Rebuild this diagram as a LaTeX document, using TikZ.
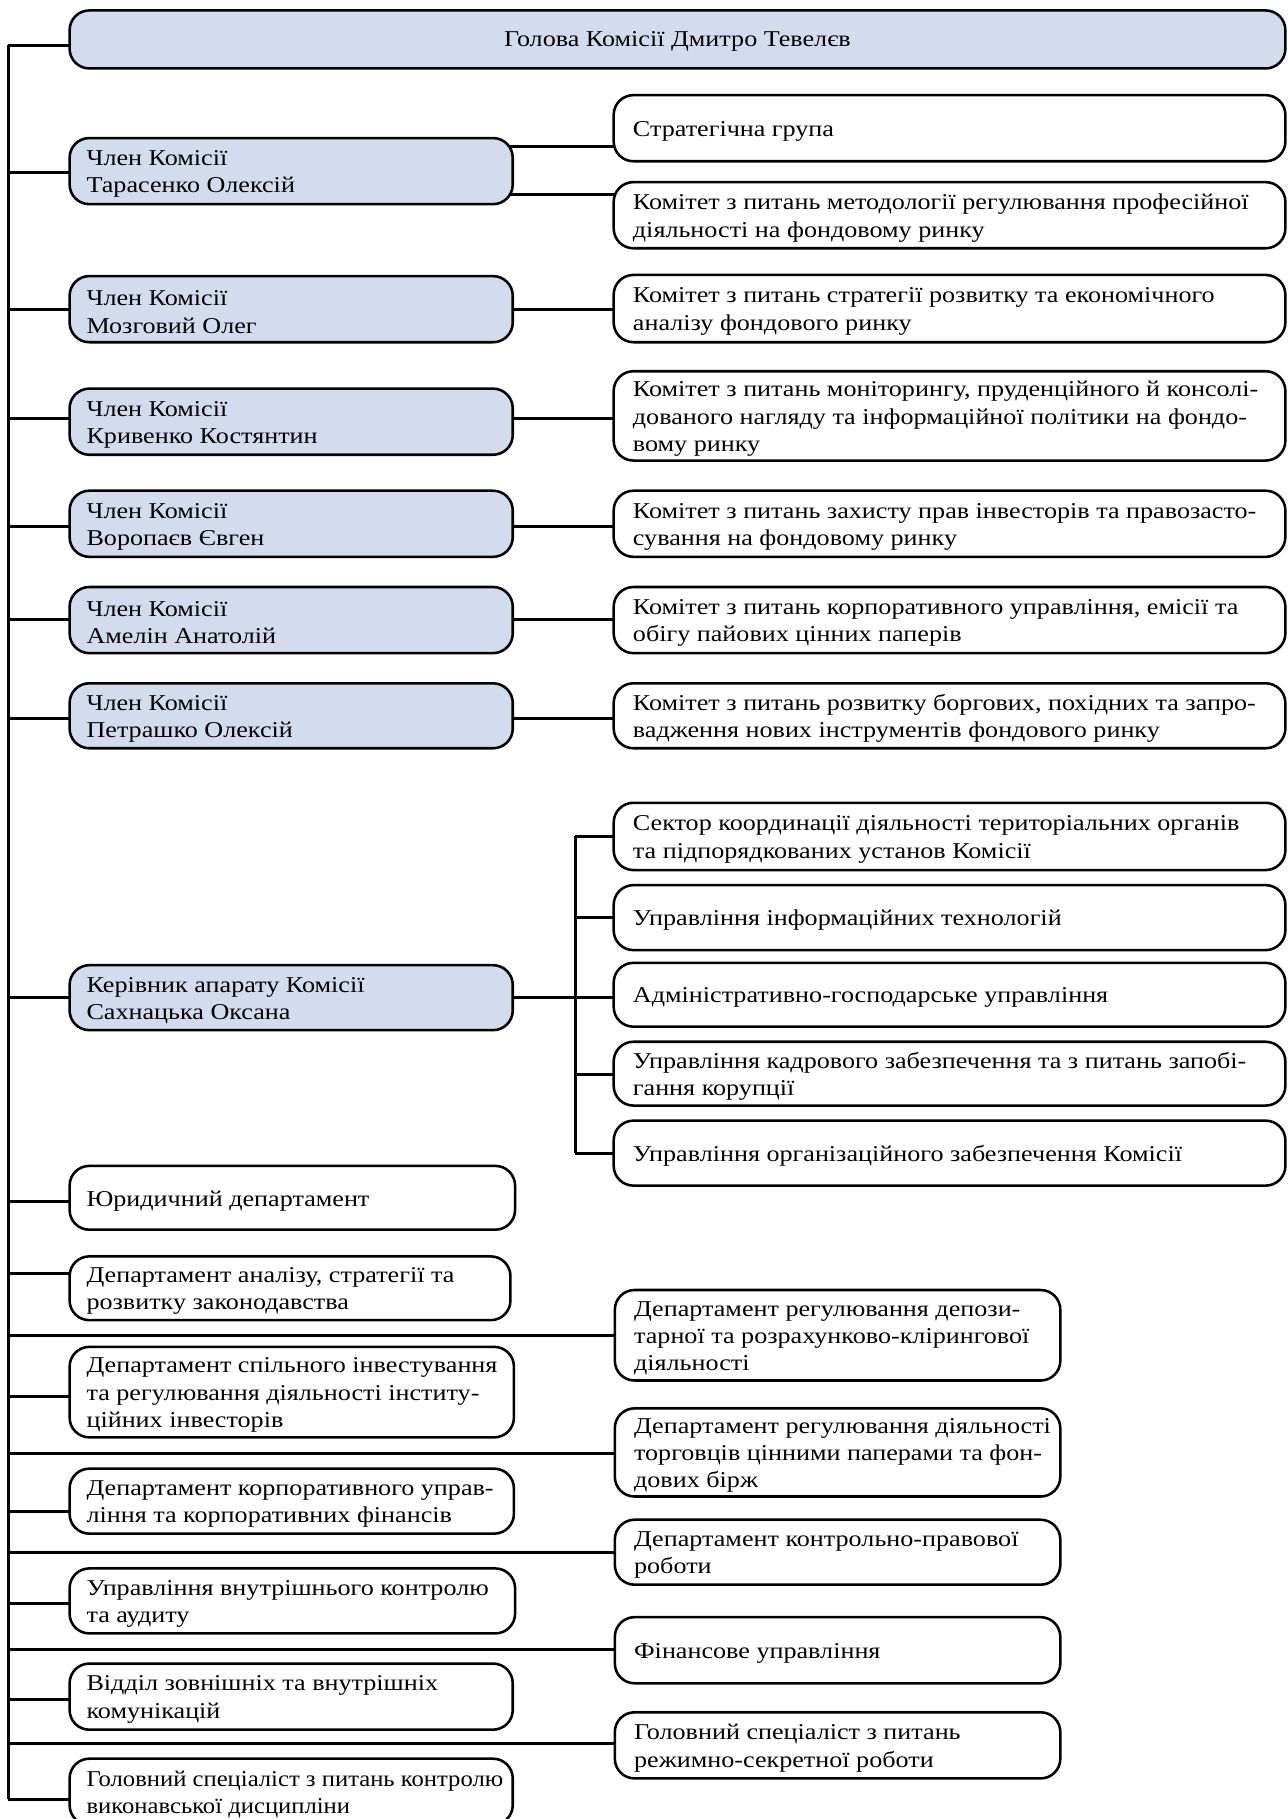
\documentclass[tikz,border=0pt]{standalone}
\usepackage{fontspec}
\setmainfont{Liberation Serif}[FakeStretch=1.155]
\newfontfamily\narrowserif{Liberation Serif}[FakeStretch=1.09]
\definecolor{boxblue}{RGB}{211,220,237}
\pgfdeclarelayer{bg}
\pgfsetlayers{bg,main}
\newcommand{\orgbox}[7]{%
  \node[#2, minimum width={(#5-#3)*1pt}, minimum height={(#6-#4)*1pt}] (#1) at ({(#3+#5)/2},{(#4+#6)/2}) {};
  \node[txt] (#1t) at ([xshift=15.5pt,yshift=-2.5pt]#1.west) {#7};
}
\newcommand{\orgboxr}[7]{%
  \node[#2, minimum width={(#5-#3)*1pt}, minimum height={(#6-#4)*1pt}] (#1) at ({(#3+#5)/2},{(#4+#6)/2}) {};
  \node[txt] (#1t) at ([xshift=17.5pt,yshift=-2.5pt]#1.west) {#7};
}
\begin{document}
\begin{tikzpicture}[x=1pt,y=-1pt,
  bx/.style={draw=black, line width=2.2pt, rounded corners=17pt, inner sep=0pt},
  bluebox/.style={bx, fill=boxblue},
  whitebox/.style={bx, fill=white},
  txt/.style={anchor=west, align=left, inner sep=0pt, font=\fontsize{19.5}{23.5}\selectfont},
  conn/.style={line width=2.6pt}]
\useasboundingbox (0,0) rectangle (1110,1568);
\clip (0,0) rectangle (1110,1568);
% top
\node[bluebox, minimum width=1048pt, minimum height=50pt] (top) at (584,34) {};
\node[txt, anchor=center] (topt) at ([yshift=-1.5pt]top.center) {Голова Комісії Дмитро Тевелєв};
% members
\orgbox{m1}{bluebox}{60}{119}{442}{176}{Член Комісії\\Тарасенко Олексій}
\orgbox{m2}{bluebox}{60}{238}{442}{295}{Член Комісії\\Мозговий Олег}
\orgbox{m3}{bluebox}{60}{335}{442}{392}{Член Комісії\\Кривенко Костянтин}
\orgbox{m4}{bluebox}{60}{423}{442}{480}{Член Комісії\\Воропаєв Євген}
\orgbox{m5}{bluebox}{60}{506}{442}{563}{Член Комісії\\Амелін Анатолій}
\orgbox{m6}{bluebox}{60}{589}{442}{645}{Член Комісії\\Петрашко Олексій}
\orgbox{m7}{bluebox}{60}{832}{442}{888}{Керівник апарату Комісії\\Сахнацька Оксана}
% committees
\orgboxr{c1}{whitebox}{529}{82}{1108}{139}{Стратегічна група}
\orgboxr{c2}{whitebox}{529}{157}{1108}{214}{Комітет з питань методології регулювання професійної\\діяльності на фондовому ринку}
\orgboxr{c3}{whitebox}{529}{237}{1108}{295}{Комітет з питань стратегії розвитку та економічного\\аналізу фондового ринку}
\orgboxr{c4}{whitebox}{529}{320}{1108}{397}{Комітет з питань моніторингу, пруденційного й консолі-\\дованого нагляду та інформаційної політики на фондо-\\вому ринку}
\orgboxr{c5}{whitebox}{529}{423}{1108}{480}{Комітет з питань захисту прав інвесторів та правозасто-\\сування на фондовому ринку}
\orgboxr{c6}{whitebox}{529}{506}{1108}{563}{Комітет з питань корпоративного управління, емісії та\\обігу пайових цінних паперів}
\orgboxr{c7}{whitebox}{529}{589}{1108}{645}{Комітет з питань розвитку боргових, похідних та запро-\\вадження нових інструментів фондового ринку}
% apparatus
\orgboxr{a1}{whitebox}{529}{692}{1108}{750}{Сектор координації діяльності територіальних органів\\та підпорядкованих установ Комісії}
\orgboxr{a2}{whitebox}{529}{763}{1108}{819}{Управління інформаційних технологій}
\orgboxr{a3}{whitebox}{529}{830}{1108}{885}{Адміністративно-господарське управління}
\orgboxr{a4}{whitebox}{529}{898}{1108}{953}{Управління кадрового забезпечення та з питань запобі-\\гання корупції}
\orgboxr{a5}{whitebox}{529}{966}{1108}{1022}{Управління організаційного забезпечення Комісії}
% lower left
\orgbox{l1}{whitebox}{60}{1005}{444}{1060}{Юридичний департамент}
\orgbox{l2}{whitebox}{60}{1083}{440}{1138}{Департамент аналізу, стратегії та\\розвитку законодавства}
\orgbox{l3}{whitebox}{60}{1161}{443}{1239}{Департамент спільного інвестування\\та регулювання діяльності інститу-\\ційних інвесторів}
\orgbox{l4}{whitebox}{60}{1266}{443}{1322}{Департамент корпоративного управ-\\ління та корпоративних фінансів}
\orgbox{l5}{whitebox}{60}{1352}{444}{1408}{Управління внутрішнього контролю\\та аудиту}
\orgbox{l6}{whitebox}{60}{1434}{442}{1491}{Відділ зовнішніх та внутрішніх\\комунікацій}
\orgbox{l7}{whitebox}{60}{1516}{442}{1573}{\narrowserif Головний спеціаліст з питань контролю\\\narrowserif виконавської дисципліни}
% lower right
\orgboxr{r1}{whitebox}{530}{1112}{914}{1190}{Департамент регулювання депози-\\тарної та розрахунково-клірингової\\діяльності}
\orgboxr{r2}{whitebox}{530}{1214}{914}{1290}{Департамент регулювання діяльності\\торговців цінними паперами та фон-\\дових бірж}
\orgboxr{r3}{whitebox}{530}{1310}{914}{1366}{Департамент контрольно-правової\\роботи}
\orgboxr{r4}{whitebox}{530}{1394}{914}{1451}{Фінансове управління}
\orgboxr{r5}{whitebox}{530}{1476}{914}{1533}{Головний спеціаліст з питань\\режимно-секретної роботи}
% connectors
\coordinate (sp) at (7,0);
\coordinate (bus) at (496,0);
\begin{pgfonlayer}{bg}
\draw[conn] (sp |- 0,39) -- (sp |- 0,1551);
\foreach \n/\y in {top/39,m1/149,m2/267,m3/361,m4/454,m5/534,m6/619,m7/860,l1/1036,l2/1098,l3/1204,l4/1303,l5/1382,l6/1465,l7/1551,r1/1151,r2/1253,r3/1338,r4/1422,r5/1503}
  \draw[conn] (sp |- 0,\y) -- (\n.center |- 0,\y);
\draw[conn] (m1.center |- 0,126) -- (c1.center |- 0,126);
\draw[conn] (m1.center |- 0,168) -- (c2.center |- 0,168);
\draw[conn] (m2.center |- 0,267) -- (c3.center |- 0,267);
\draw[conn] (m3.center |- 0,361) -- (c4.center |- 0,361);
\draw[conn] (m4.center |- 0,454) -- (c5.center |- 0,454);
\draw[conn] (m5.center |- 0,534) -- (c6.center |- 0,534);
\draw[conn] (m6.center |- 0,619) -- (c7.center |- 0,619);
\draw[conn] (m7.center |- 0,860) -- (bus |- 0,860);
\draw[conn] (bus |- 0,721) -- (bus |- 0,994);
\foreach \n/\y in {a1/721,a2/791,a3/860,a4/926,a5/994}
  \draw[conn] (bus |- 0,\y) -- (\n.center |- 0,\y);
\end{pgfonlayer}
\end{tikzpicture}
\end{document}
